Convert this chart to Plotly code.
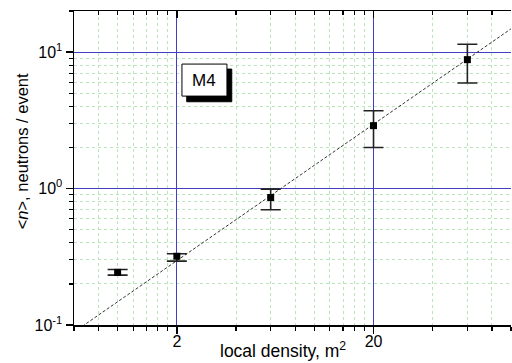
import plotly.graph_objects as go
import numpy as np

# data
density = [1.0, 2.0, 6.0, 20.0, 60.0]
neutrons = [0.243, 0.319, 0.86, 2.89, 8.8]
err_plus = [0.012, 0.014, 0.13, 0.83, 2.6]
err_minus = [0.011, 0.025, 0.16, 0.89, 2.87]
fit_x = [0.6, 100.0]
fit_coef = 0.148
fit_y = [fit_coef * v for v in fit_x]

x_major = [2, 20]
x_minor = [0.6, 0.8, 1.0, 1.2, 1.4, 1.6, 1.8, 4, 6, 8, 10, 12, 14, 16, 18, 40, 60, 80, 100]
y_major = [0.1, 1, 10]
y_major_text = ["10<sup>-1</sup>", "10<sup>0</sup>", "10<sup>1</sup>"]
y_minor = [0.2, 0.3, 0.4, 0.5, 0.6, 0.7, 0.8, 0.9, 2, 3, 4, 5, 6, 7, 8, 9, 20]
label = "M4"
x_title = "local density, m<sup>2</sup>"
y_title = "&lt;<i>n</i>&gt;, neutrons / event"

xr = [np.log10(0.6), np.log10(100)]
yr = [np.log10(0.1), np.log10(20)]

fig = go.Figure()
fig.add_trace(go.Scatter(x=fit_x, y=fit_y, mode="lines",
                         line=dict(color="#333333", width=1, dash="3px,2px"),
                         showlegend=False, hoverinfo="skip"))
fig.add_trace(go.Scatter(x=density, y=neutrons, mode="markers",
                         marker=dict(symbol="square", size=7, color="black"),
                         error_y=dict(type="data", symmetric=False, array=err_plus,
                                      arrayminus=err_minus, color="#222222",
                                      thickness=1.6, width=10),
                         showlegend=False))
fig.add_trace(go.Scatter(x=[None], y=[None], xaxis="x2", showlegend=False))

font = "Liberation Sans, Arial, sans-serif"
grid_minor = "#b8e6b8"
grid_major = "#4040c0"
fig.update_layout(
    template="none",
    hovermode=False,
    width=512, height=363,
    margin=dict(l=74, r=1, t=11, b=38),
    paper_bgcolor="white", plot_bgcolor="white",
    font=dict(family=font, color="black", size=15),
    xaxis=dict(type="log", range=xr, tickmode="array", tickvals=x_major,
               ticktext=[str(v) for v in x_major], automargin=False,
               ticks="outside", ticklen=7, tickwidth=1.5, tickcolor="black",
               ticklabelstandoff=-6,
               showline=True, linecolor="black", linewidth=1.5,
               showgrid=True, gridcolor=grid_major, gridwidth=1,
               zeroline=False, tickfont=dict(size=16),
               minor=dict(tickvals=x_minor, ticks="outside", ticklen=4,
                          tickwidth=1.2, tickcolor="black", showgrid=True,
                          gridcolor=grid_minor, griddash="dot", gridwidth=1)),
    xaxis2=dict(type="log", range=xr, overlaying="x", side="top", anchor="y",
                tickmode="array", tickvals=x_major, showticklabels=False,
                automargin=False,
                ticks="inside", ticklen=7, tickwidth=1.5, tickcolor="black",
                showline=True, linecolor="black", linewidth=1.5,
                showgrid=False, zeroline=False,
                minor=dict(tickvals=x_minor, ticks="inside", ticklen=4,
                           tickwidth=1.2, tickcolor="black", showgrid=False)),
    yaxis=dict(type="log", range=yr, tickmode="array", tickvals=y_major,
               ticktext=y_major_text, automargin=False,
               ticks="outside", ticklen=7, tickwidth=1.5, tickcolor="black",
               showline=True, linecolor="black", linewidth=1.5,
               showgrid=True, gridcolor=grid_major, gridwidth=1,
               zeroline=False, tickfont=dict(size=16),
               minor=dict(tickvals=y_minor, ticks="outside", ticklen=4,
                          tickwidth=1.2, tickcolor="black", showgrid=True,
                          gridcolor=grid_minor, griddash="dot", gridwidth=1)),
)

# axis titles
fig.add_annotation(x=0.479, y=-0.080, xref="paper", yref="paper",
                   text=x_title, showarrow=False, font=dict(size=17.5),
                   xanchor="center", yanchor="middle")
fig.add_annotation(x=-0.119, y=0.553, xref="paper", yref="paper",
                   text=y_title, showarrow=False, font=dict(size=16.5),
                   textangle=-90, xanchor="center", yanchor="middle")

# label box with shadow
fig.add_shape(type="rect", xref="paper", yref="paper",
              x0=0.258, x1=0.361, y0=0.711, y1=0.815,
              fillcolor="black", line=dict(color="black", width=1))
fig.add_shape(type="rect", xref="paper", yref="paper",
              x0=0.247, x1=0.350, y0=0.729, y1=0.831,
              fillcolor="white", line=dict(color="black", width=1))
fig.add_annotation(x=0.2985, y=0.78, xref="paper", yref="paper",
                   text=label, showarrow=False, font=dict(size=17, color="black"),
                   xanchor="center", yanchor="middle")

fig.write_html("out.html",
               config={"displayModeBar": False, "staticPlot": True},
               post_script="document.body.style.margin='0';document.body.style.overflow='hidden';")
